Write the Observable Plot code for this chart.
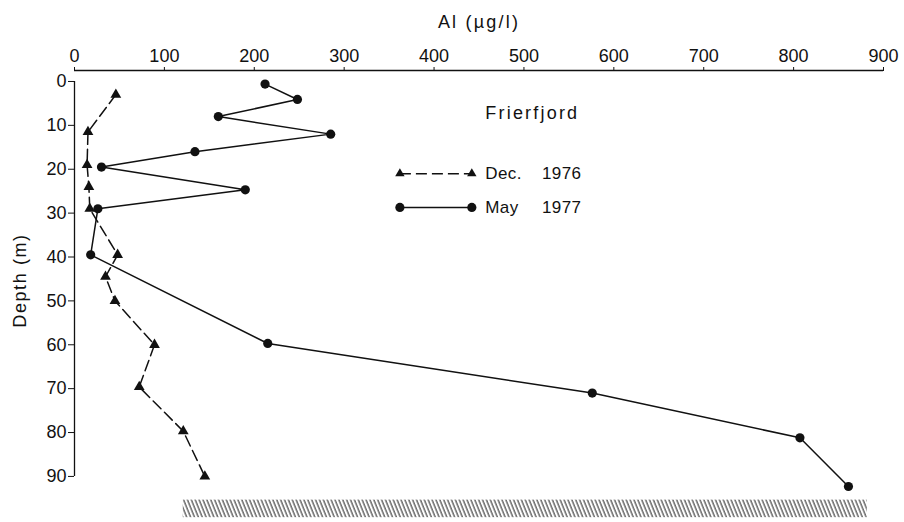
<!DOCTYPE html>
<html>
<head>
<meta charset="utf-8">
<script src="https://cdn.jsdelivr.net/npm/d3@7"></script>
<script src="https://cdn.jsdelivr.net/npm/@observablehq/plot@0.6"></script>
<style>
  html, body { margin: 0; padding: 0; background: #fff; }
  #chart { width: 904px; height: 522px; }
  #chart svg text { font-size: 18px; }
  #chart svg text.wide { letter-spacing: 2.2px; }
  #chart svg text.ylab { letter-spacing: 1.6px; }
  #chart svg text.legend { font-size: 17px; letter-spacing: 0.4px; }
</style>
</head>
<body>
<div id="chart"></div>
<script>
// ---- data ----
const xTicks = [0, 100, 200, 300, 400, 500, 600, 700, 800, 900];
const yTicks = [0, 10, 20, 30, 40, 50, 60, 70, 80, 90];

// Dec. 1976 (triangles, dashed)
const decDepth = [3, 11.5, 19, 24, 29, 39.5, 44.5, 50, 60, 69.6, 79.7, 90];
const decAl    = [46, 15, 14, 16, 17, 48, 34.5, 45, 89, 72, 121, 145];

// May 1977 (circles, solid)
const mayDepth = [0.6, 4.1, 8, 12, 16, 19.5, 24.7, 29, 39.5, 59.7, 71, 81.2, 92.3];
const mayAl    = [212, 248, 160, 285, 134, 30, 190, 26, 18, 215, 576, 807, 861];

// sea floor (hatched)
const seabedFrom = [121];
const seabedTo   = [882];
const seabedTop  = [95.4];
const seabedBottom = [99.4];

const seriesNames = ["Dec.", "May"];
const seriesYears = ["1976", "1977"];
const title = "Frierfjord";
const xLabel = "Al (µg/l)";
const yLabel = "Depth (m)";

// ---- tables built from arrays ----
const dec = decDepth.map((d, i) => ({depth: d, al: decAl[i]}));
const may = mayDepth.map((d, i) => ({depth: d, al: mayAl[i]}));
const seabed = seabedFrom.map((f, i) => ({x1: f, x2: seabedTo[i], y1: seabedTop[i], y2: seabedBottom[i]}));

// legend layout (in chart units)
const legX1 = 362, legX2 = 442, legText = 457, legYear = 520;
const legDepth = [21, 28.7];
const legend = seriesNames.map((n, i) => ({name: n, year: seriesYears[i], depth: legDepth[i]}));
const legDec = [legend[0]];
const legMay = [legend[1]];

const yDomain = [-2.5, 100.5];
const ink = "#111";

const plot = Plot.plot({
  width: 904,
  height: 522,
  marginLeft: 74,
  marginRight: 21,
  marginTop: 70,
  marginBottom: 0,
  style: {fontFamily: "'Liberation Sans', Arial, sans-serif", fontSize: "18px", color: ink, background: "#fff"},
  x: {domain: [0, 900], axis: null},
  y: {domain: yDomain, axis: null, reverse: true},
  marks: [
    // axes
    Plot.axisX({anchor: "top", ticks: xTicks, tickSize: 4, tickPadding: 5, label: xLabel, labelAnchor: "center", labelOffset: 55, labelArrow: false}),
    Plot.ruleY([yDomain[0]], {x1: xTicks[0], x2: xTicks[xTicks.length - 1], stroke: ink, strokeWidth: 1.3}),
    Plot.axisY({anchor: "left", ticks: yTicks, tickSize: 6, tickPadding: 2, label: null}),
    Plot.ruleX([xTicks[0]], {y1: yTicks[0], y2: yTicks[yTicks.length - 1], stroke: ink, strokeWidth: 1.3}),
    Plot.text([yLabel], {frameAnchor: "left", text: d => d, rotate: -90, dx: -54, dy: -16, textAnchor: "middle", fill: ink}),

    // sea floor
    Plot.rect(seabed, {x1: "x1", x2: "x2", y1: "y1", y2: "y2", fill: "url(#hatch)"}),

    // Dec 1976
    Plot.line(dec, {x: "al", y: "depth", stroke: ink, strokeWidth: 1.5, strokeDasharray: "11,5"}),
    Plot.dot(dec, {x: "al", y: "depth", symbol: "triangle", r: 4, fill: ink, stroke: "none"}),

    // May 1977
    Plot.line(may, {x: "al", y: "depth", stroke: ink, strokeWidth: 1.5}),
    Plot.dot(may, {x: "al", y: "depth", symbol: "circle", r: 4.6, fill: ink, stroke: "none"}),

    // title
    Plot.text([title], {x: legText, y: 7.3, text: d => d, textAnchor: "start", fill: ink}),

    // legend
    Plot.link(legDec, {x1: legX1, x2: legX2, y1: "depth", y2: "depth", stroke: ink, strokeWidth: 1.5, strokeDasharray: "11,5"}),
    Plot.link(legMay, {x1: legX1, x2: legX2, y1: "depth", y2: "depth", stroke: ink, strokeWidth: 1.5}),
    Plot.dot(legDec, {x: legX1, y: "depth", symbol: "triangle", r: 3.5, fill: ink, stroke: "none"}),
    Plot.dot(legDec, {x: legX2, y: "depth", symbol: "triangle", r: 3.5, fill: ink, stroke: "none"}),
    Plot.dot(legMay, {x: legX1, y: "depth", symbol: "circle", r: 4.6, fill: ink, stroke: "none"}),
    Plot.dot(legMay, {x: legX2, y: "depth", symbol: "circle", r: 4.6, fill: ink, stroke: "none"}),
    Plot.text(legend, {x: legText, y: "depth", text: "name", textAnchor: "start", fill: ink}),
    Plot.text(legend, {x: legYear, y: "depth", text: "year", textAnchor: "start", fill: ink})
  ]
});

plot.insertAdjacentHTML("afterbegin",
  '<defs><pattern id="hatch" patternUnits="userSpaceOnUse" width="3.6" height="12" patternTransform="rotate(-22)">' +
  '<line x1="1" y1="0" x2="1" y2="12" stroke="#333" stroke-width="1.1"/></pattern></defs>');

const wideTexts = new Set([title, xLabel]);
const legendTexts = new Set([...seriesNames, ...seriesYears]);
plot.querySelectorAll("text").forEach(t => {
  const s = t.textContent.trim();
  if (wideTexts.has(s)) t.classList.add("wide");
  else if (s === yLabel) t.classList.add("ylab");
  else if (legendTexts.has(s)) t.classList.add("legend");
});

document.getElementById("chart").appendChild(plot);
</script>
</body>
</html>
